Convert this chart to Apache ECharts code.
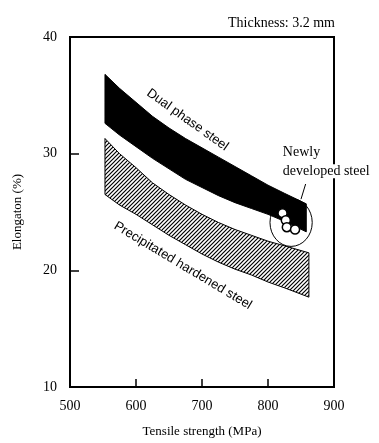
<!DOCTYPE html>
<html><head><meta charset="utf-8">
<script src="https://cdn.jsdelivr.net/npm/echarts@6/dist/echarts.min.js"></script>
<style>html,body{margin:0;padding:0;background:#fff}#c{width:379px;height:443px}</style>
</head><body><div id="c"></div>
<script>
// Dual phase steel band (tensile strength MPa, elongation %)
const dpX      = [553, 575, 600, 625, 650, 675, 700, 725, 750, 775, 800, 825, 858];
const dpTop    = [36.8, 35.6, 34.4, 33.2, 32.2, 31.3, 30.5, 29.7, 28.9, 28.1, 27.3, 26.6, 25.7];
const dpBottom = [32.6, 31.6, 30.6, 29.6, 28.7, 27.8, 27.1, 26.4, 25.8, 25.3, 24.8, 24.2, 23.3];
// Precipitated hardened steel band
const phX      = [553, 575, 600, 625, 650, 675, 700, 725, 750, 775, 800, 825, 862];
const phTop    = [31.3, 30.0, 28.8, 27.5, 26.5, 25.6, 24.8, 24.1, 23.5, 23.0, 22.5, 22.1, 21.5];
const phBottom = [26.5, 25.6, 24.8, 23.9, 23.0, 22.2, 21.4, 20.7, 20.1, 19.6, 19.0, 18.5, 17.7];
// Newly developed steel points
const newX = [822, 827, 828.5, 841];
const newY = [24.9, 24.3, 23.7, 23.5];
// Axis ticks
const xMin = 500, xMax = 900, xStep = 100;
const yMin = 10, yMax = 40, yStep = 10;
// Annotations
const labelDual = 'Dual phase steel';
const labelPrec = 'Precipitated hardened steel';
const labelNew1 = 'Newly';
const labelNew2 = 'developed steel';
const note = 'Thickness: 3.2 mm';

const serif = '"Liberation Serif", "Times New Roman", serif';
const sans = '"Liberation Sans", Arial, sans-serif';

function hatch() {
  const s = 4, c = document.createElement('canvas');
  c.width = s; c.height = s;
  const g = c.getContext('2d');
  g.fillStyle = '#fff'; g.fillRect(0, 0, s, s);
  g.strokeStyle = '#000'; g.lineWidth = 1.2;
  g.beginPath();
  g.moveTo(0, s); g.lineTo(s, 0);
  g.moveTo(-1, 1); g.lineTo(1, -1);
  g.moveTo(s - 1, s + 1); g.lineTo(s + 1, s - 1);
  g.stroke();
  return c;
}

function band(xs, top, bot, fill) {
  return function (params, api) {
    const pts = [];
    for (let i = 0; i < xs.length; i++) pts.push(api.coord([xs[i], top[i]]));
    for (let i = xs.length - 1; i >= 0; i--) pts.push(api.coord([xs[i], bot[i]]));
    return { type: 'polygon', shape: { points: pts }, style: { fill: fill, stroke: '#000', lineWidth: 1 } };
  };
}

const chart = echarts.init(document.getElementById('c'), null, { renderer: 'canvas' });
chart.setOption({
  animation: false,
  backgroundColor: '#fff',
  grid: { left: 70, top: 37, right: 45, bottom: 53, show: true, borderColor: '#000', borderWidth: 2 },
  xAxis: {
    type: 'value', min: xMin, max: xMax, interval: xStep,
    name: 'Tensile strength (MPa)', nameLocation: 'middle', nameGap: 38,
    nameTextStyle: { fontFamily: serif, fontSize: 13, color: '#000' },
    axisLine: { show: true, lineStyle: { color: '#000', width: 2 } },
    axisTick: { show: true, inside: true, length: 8, lineStyle: { color: '#000', width: 1.5 } },
    axisLabel: { fontFamily: serif, fontSize: 14, color: '#000', margin: 12 },
    splitLine: { show: false }
  },
  yAxis: {
    type: 'value', min: yMin, max: yMax, interval: yStep,
    name: 'Elongaton (%)', nameLocation: 'middle', nameGap: 46, nameRotate: 90,
    nameTextStyle: { fontFamily: serif, fontSize: 13, color: '#000' },
    axisLine: { show: true, lineStyle: { color: '#000', width: 2 } },
    axisTick: { show: true, inside: true, length: 9, lineStyle: { color: '#000', width: 1.5 } },
    axisLabel: { fontFamily: serif, fontSize: 14, color: '#000', margin: 13 },
    splitLine: { show: false }
  },
  graphic: [{
    type: 'text', right: 44, top: 16,
    style: { text: note, fontFamily: serif, fontSize: 14, fill: '#000' }
  }],
  series: [
    {
      type: 'custom', clip: false, z: 2,
      data: [[phX[0], phTop[0]]],
      renderItem: band(phX, phTop, phBottom, { image: hatch(), repeat: 'repeat' })
    },
    {
      type: 'custom', clip: false, z: 3,
      data: [[dpX[0], dpTop[0]]],
      renderItem: band(dpX, dpTop, dpBottom, '#000')
    },
    {
      type: 'scatter', z: 5,
      data: newX.map((x, i) => [x, newY[i]]),
      symbol: 'circle', symbolSize: 9,
      itemStyle: { color: '#fff', borderColor: '#000', borderWidth: 1.5, opacity: 1 }
    },
    {
      type: 'custom', clip: false, z: 6,
      data: [[xMin, yMin]],
      renderItem: function (params, api) {
        const c = api.coord([835, 24.1]);
        const r = api.size([32, 2.05]);
        const l1 = api.coord([850, 26.1]);
        const l2 = api.coord([857, 27.4]);
        const d = api.coord([678, 32.9]);
        const p = api.coord([671, 20.4]);
        const n1 = api.coord([822.5, 30.1]);
        const n2 = api.coord([822.5, 28.5]);
        return {
          type: 'group',
          children: [
            { type: 'ellipse', shape: { cx: c[0], cy: c[1], rx: r[0], ry: r[1] },
              style: { fill: null, stroke: '#000', lineWidth: 1 } },
            { type: 'line', shape: { x1: l1[0], y1: l1[1], x2: l2[0], y2: l2[1] },
              style: { stroke: '#000', lineWidth: 1 } },
            { type: 'text', x: d[0], y: d[1], rotation: -35.5 * Math.PI / 180,
              style: { text: labelDual, fontFamily: sans, fontSize: 13, fill: '#000', align: 'center', verticalAlign: 'middle' } },
            { type: 'text', x: p[0], y: p[1], rotation: -31 * Math.PI / 180,
              style: { text: labelPrec, fontFamily: sans, fontSize: 13, fill: '#000', align: 'center', verticalAlign: 'middle' } },
            { type: 'text', x: n1[0], y: n1[1],
              style: { text: labelNew1, fontFamily: serif, fontSize: 14, fill: '#000', align: 'left', verticalAlign: 'middle' } },
            { type: 'text', x: n2[0], y: n2[1],
              style: { text: labelNew2, fontFamily: serif, fontSize: 14, fill: '#000', align: 'left', verticalAlign: 'middle', backgroundColor: '#fff' } }
          ]
        };
      }
    }
  ]
});
</script>
</body></html>
